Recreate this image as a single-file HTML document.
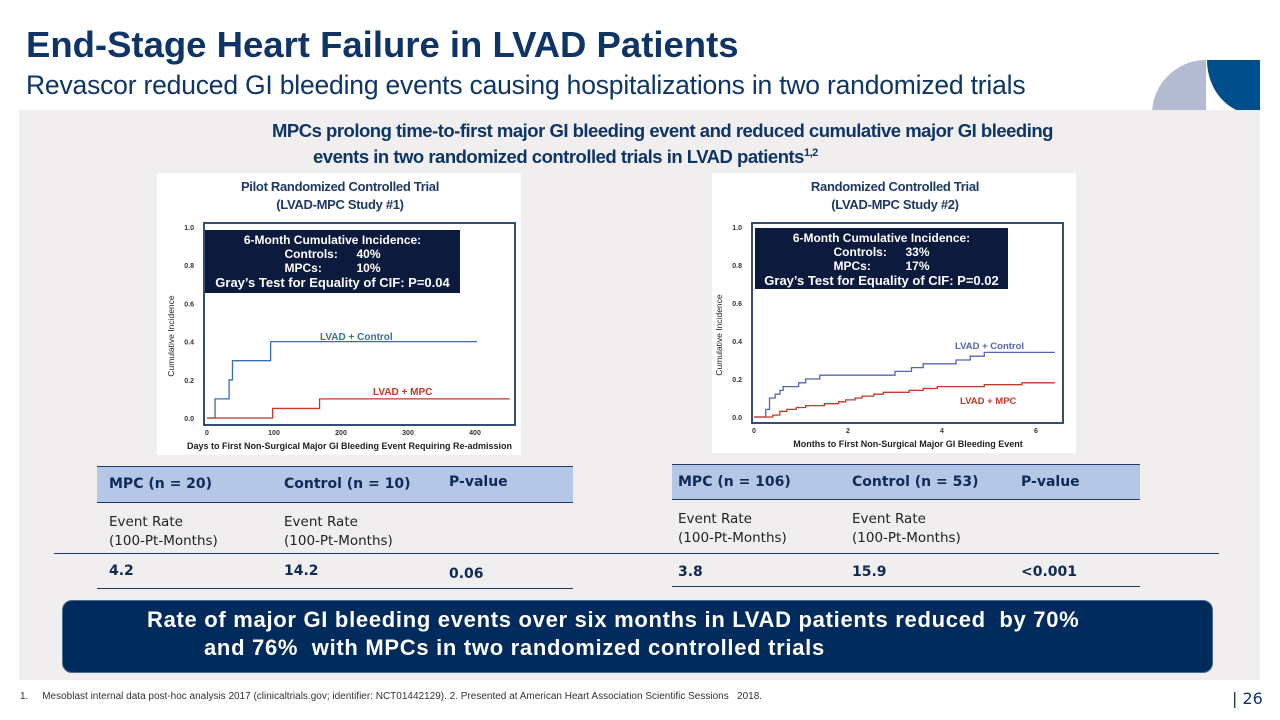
<!DOCTYPE html>
<html><head><meta charset="utf-8"><style>
body{margin:0;width:1280px;height:720px;overflow:hidden;background:#fff;font-family:"Liberation Sans",sans-serif;position:relative}
.a{position:absolute}
</style></head><body>
<div class="a" style="left:26px;top:24px;font-size:36.5px;font-weight:bold;color:#0e3565;white-space:nowrap">End-Stage Heart Failure in LVAD Patients</div>
<div class="a" style="left:26px;top:70px;font-size:26.5px;color:#0e3565;white-space:nowrap;letter-spacing:-0.2px">Revascor reduced GI bleeding events causing hospitalizations in two randomized trials</div>
<svg class="a" style="left:1150px;top:58px" width="110" height="70">
<path d="M2 56 A54 54 0 0 1 56 2 L56 56 Z" fill="#b3bbd1"/>
<path d="M57 2 L110 2 L110 56 L104 56 A47 54 0 0 1 57 2Z" fill="#004f8c"/>
<path d="M57 57 L110 57 A53 53 0 0 1 57 110Z" fill="#002b5c"/>
</svg>
<div class="a" style="left:19px;top:110px;width:1241px;height:570px;background:#f1eeef"></div>
<div class="a" style="left:200px;top:120px;width:1000px;font-size:18.5px;font-weight:bold;color:#0e3565;line-height:22px;letter-spacing:-0.5px;white-space:nowrap"><div style="padding-left:72px">MPCs prolong time-to-first major GI bleeding event and reduced cumulative major GI bleeding</div><div style="padding-left:113px">events in two randomized controlled trials in LVAD patients<sup style="font-size:11px">1,2</sup></div></div>

<svg class="a" id="c1" style="left:157px;top:173px" width="364" height="282"></svg>
<svg class="a" id="c2" style="left:712px;top:173px" width="364" height="280"></svg>

<div class="a" style="left:97px;top:466px;width:476px;height:35px;background:#b4c7e7;border-top:1px solid #1f3864;border-bottom:1px solid #1f3864"></div>
<div class="a" style="left:672px;top:464px;width:468px;height:34px;background:#b4c7e7;border-top:1px solid #1f3864;border-bottom:1px solid #1f3864"></div>
<div class="a" style="left:54px;top:553px;width:1165px;height:1px;background:#1f3864"></div>
<div class="a" style="left:97px;top:588px;width:476px;height:1px;background:#1f3864"></div>
<div class="a" style="left:672px;top:586px;width:468px;height:1px;background:#1f3864"></div>
<div style="font-family:'DejaVu Sans',sans-serif;color:#0e2a55">
<div class="a" style="left:109px;top:476px;font-size:14px;font-weight:bold">MPC (n = 20)</div>
<div class="a" style="left:284px;top:476px;font-size:14px;font-weight:bold">Control (n = 10)</div>
<div class="a" style="left:449px;top:474px;font-size:14px;font-weight:bold">P-value</div>
<div class="a" style="left:109px;top:513px;font-size:13.5px;line-height:19px;color:#222">Event Rate<br>(100-Pt-Months)</div>
<div class="a" style="left:284px;top:513px;font-size:13.5px;line-height:19px;color:#222">Event Rate<br>(100-Pt-Months)</div>
<div class="a" style="left:109px;top:563px;font-size:14px;font-weight:bold">4.2</div>
<div class="a" style="left:284px;top:563px;font-size:14px;font-weight:bold">14.2</div>
<div class="a" style="left:449px;top:566px;font-size:14px;font-weight:bold">0.06</div>
<div class="a" style="left:678px;top:474px;font-size:14px;font-weight:bold">MPC (n = 106)</div>
<div class="a" style="left:852px;top:474px;font-size:14px;font-weight:bold">Control (n = 53)</div>
<div class="a" style="left:1021px;top:474px;font-size:14px;font-weight:bold">P-value</div>
<div class="a" style="left:678px;top:510px;font-size:13.5px;line-height:19px;color:#222">Event Rate<br>(100-Pt-Months)</div>
<div class="a" style="left:852px;top:510px;font-size:13.5px;line-height:19px;color:#222">Event Rate<br>(100-Pt-Months)</div>
<div class="a" style="left:678px;top:564px;font-size:14px;font-weight:bold">3.8</div>
<div class="a" style="left:852px;top:564px;font-size:14px;font-weight:bold">15.9</div>
<div class="a" style="left:1021px;top:564px;font-size:14px;font-weight:bold">&lt;0.001</div>
</div>

<div class="a" style="left:62px;top:600px;width:1151px;height:73px;background:#002b5c;border:1px solid #4a6a90;border-radius:10px;color:#fff;font-weight:bold;font-size:22px;letter-spacing:0.7px;line-height:28px;box-sizing:border-box;padding-top:5px;white-space:nowrap">
<div style="padding-left:84px">Rate of major GI bleeding events over six months in LVAD patients reduced&nbsp; by 70%</div>
<div style="padding-left:141px">and 76%&nbsp; with MPCs in two randomized controlled trials</div></div>
<div class="a" style="left:20px;top:691px;font-size:10px;color:#333;white-space:nowrap">1.&nbsp;&nbsp;&nbsp;&nbsp; Mesoblast internal data post-hoc analysis 2017 (clinicaltrials.gov; identifier: NCT01442129). 2. Presented at American Heart Association Scientific Sessions&nbsp;&nbsp; 2018.</div>
<div class="a" style="left:1232px;top:689px;font-size:16px;color:#0e3565;font-family:'DejaVu Sans',sans-serif">| 26</div>

<script>
// Study 1 data (days, cumulative incidence)
const c1ControlX=[0,12,33,38,95,403];
const c1ControlY=[0,0.1,0.2,0.3,0.4,0.4];
const c1MpcX=[0,98,168,452];
const c1MpcY=[0,0.05,0.1,0.1];
const c1XTicks=[0,100,200,300,400];
const yTicks=[0,0.2,0.4,0.6,0.8,1.0];
// Study 2 data (months, cumulative incidence)
const c2ControlX=[0,0.25,0.33,0.45,0.55,0.62,0.95,1.1,1.4,3.0,3.35,3.6,4.3,4.6,4.9,6.4];
const c2ControlY=[0,0.04,0.1,0.12,0.14,0.16,0.18,0.2,0.22,0.24,0.26,0.28,0.3,0.32,0.34,0.34];
const c2MpcX=[0,0.4,0.55,0.7,0.9,1.1,1.5,1.8,1.95,2.15,2.3,2.55,2.75,3.3,3.6,3.9,4.9,5.7,6.4];
const c2MpcY=[0,0.01,0.03,0.04,0.05,0.06,0.07,0.08,0.09,0.1,0.11,0.12,0.13,0.14,0.15,0.16,0.17,0.18,0.18];
const c2XTicks=[0,2,4,6];

const NS='http://www.w3.org/2000/svg';
function mk(svg,tag,attrs,txt){const e=document.createElementNS(NS,tag);for(const k in attrs)e.setAttribute(k,attrs[k]);if(txt!==undefined)e.textContent=txt;svg.appendChild(e);return e;}
function step(xs,ys,sx,sy){let d='M'+sx(xs[0])+' '+sy(ys[0]);for(let i=1;i<xs.length;i++){d+=' H'+sx(xs[i])+' V'+sy(ys[i]);}return d;}

function draw(id,cfg){
  const svg=document.getElementById(id);
  const bg=mk(svg,'rect',{x:0,y:0,width:cfg.w,height:cfg.h,fill:'#fff'});
  
  const sx=v=>cfg.x0+(v-cfg.xmin)/(cfg.xmax-cfg.xmin)*(cfg.x1-cfg.x0);
  const sy=v=>cfg.y0-v*(cfg.y0-cfg.y1);
  const t1=mk(svg,'text',{x:cfg.cx,y:18,'text-anchor':'middle','font-size':13,'font-weight':'bold',fill:'#1f3864','font-family':'Liberation Sans','letter-spacing':-0.3},cfg.t1);
  
  const t2=mk(svg,'text',{x:cfg.cx,y:36,'text-anchor':'middle','font-size':13,'font-weight':'bold',fill:'#1f3864','font-family':'Liberation Sans','letter-spacing':-0.3},cfg.t2);
  
  const fr=mk(svg,'rect',{x:cfg.fx0,y:cfg.fy0,width:cfg.fx1-cfg.fx0,height:cfg.fy1-cfg.fy0,fill:'none',stroke:'#1f3864','stroke-width':1.8});
  
  yTicks.forEach(v=>{const t=mk(svg,'text',{x:cfg.fx0-10,y:sy(v)+3,'text-anchor':'end','font-size':7,'font-weight':'bold',fill:'#333'},v.toFixed(1));
    });
  cfg.xt.forEach(v=>{const t=mk(svg,'text',{x:sx(v),y:cfg.fy1+10,'text-anchor':'middle','font-size':7,'font-weight':'bold',fill:'#333'},v);
    });
  const yl=mk(svg,'text',{x:0,y:0,transform:`translate(${cfg.fx0-30},${(cfg.fy0+cfg.fy1)/2+12}) rotate(-90)`,'text-anchor':'middle','font-size':8.5,fill:'#222'},'Cumulative Incidence');
  
  const xl=mk(svg,'text',{x:cfg.xlx,y:cfg.fy1+24,'text-anchor':cfg.xla,'font-size':9,'font-weight':'bold',fill:'#222'},cfg.xlabel);
  
  const bx=mk(svg,'rect',{x:cfg.bx,y:cfg.by,width:cfg.bw,height:cfg.bh,fill:'#0b1a3d'});
  
  const mid=cfg.bx+cfg.bw/2;
  const lines=[['6-Month Cumulative Incidence:'],['Controls:',cfg.c],['MPCs:',cfg.m]];
  const ly=[cfg.by+14,cfg.by+28,cfg.by+42];
  lines.forEach((l,i)=>{const t=mk(svg,'text',{x:i==0?mid:mid-48,y:ly[i],'text-anchor':i==0?'middle':'start','font-size':12,'font-weight':'bold',fill:'#fff'},l[0]);
    
    if(l[1]){const v=mk(svg,'text',{x:mid+24,y:ly[i],'font-size':12,'font-weight':'bold',fill:'#fff'},l[1]);
      }});
  const g=mk(svg,'text',{x:mid,y:cfg.by+57,'text-anchor':'middle','font-size':13,'font-weight':'bold',fill:'#fff'},'Gray\u2019s Test for Equality of CIF:  '+cfg.p);
  
  const lc=mk(svg,'path',{d:step(cfg.cx_,cfg.cy_,sx,sy),fill:'none',stroke:cfg.ccol,'stroke-width':1.3});
  
  const lm=mk(svg,'path',{d:step(cfg.mx_,cfg.my_,sx,sy),fill:'none',stroke:'#c0392b','stroke-width':1.3});
  
  const a=mk(svg,'text',{x:cfg.clx,y:cfg.cly,'font-size':cfg.lfs,'font-weight':'bold',fill:cfg.ccol},'LVAD + Control');
  
  const b=mk(svg,'text',{x:cfg.mlx,y:cfg.mly,'font-size':cfg.lfs,'font-weight':'bold',fill:'#c0392b'},'LVAD + MPC');
  
}
draw('c1',{w:364,h:282,cx:183,t1:'Pilot Randomized Controlled Trial',t2:'(LVAD-MPC  Study #1)',
  fx0:47,fy0:50,fx1:358,fy1:252,x0:50,x1:318,xmin:0,xmax:400,y0:245,y1:54,xt:c1XTicks,
  xlabel:'Days to First Non-Surgical Major GI Bleeding Event Requiring Re-admission',xlx:30,xla:'start',
  bx:48,by:57,bw:255,bh:63,c:'40%',m:'10%',p:'P=0.04',
  cx_:c1ControlX,cy_:c1ControlY,mx_:c1MpcX,my_:c1MpcY,ccol:'#3b6db3',
  clx:163,cly:167,mlx:216,mly:222,lfs:10});
draw('c2',{w:364,h:280,cx:183,t1:'Randomized Controlled Trial',t2:'(LVAD-MPC  Study #2)',
  fx0:40,fy0:50,fx1:351,fy1:250,x0:42,x1:324,xmin:0,xmax:6,y0:244,y1:54,xt:c2XTicks,
  xlabel:'Months to First Non-Surgical Major GI Bleeding Event',xlx:196,xla:'middle',
  bx:43,by:55,bw:253,bh:61,c:'33%',m:'17%',p:'P=0.02',
  cx_:c2ControlX,cy_:c2ControlY,mx_:c2MpcX,my_:c2MpcY,ccol:'#5566b0',
  clx:243,cly:176,mlx:248,mly:231,lfs:9.5});
</script>
</body></html>
